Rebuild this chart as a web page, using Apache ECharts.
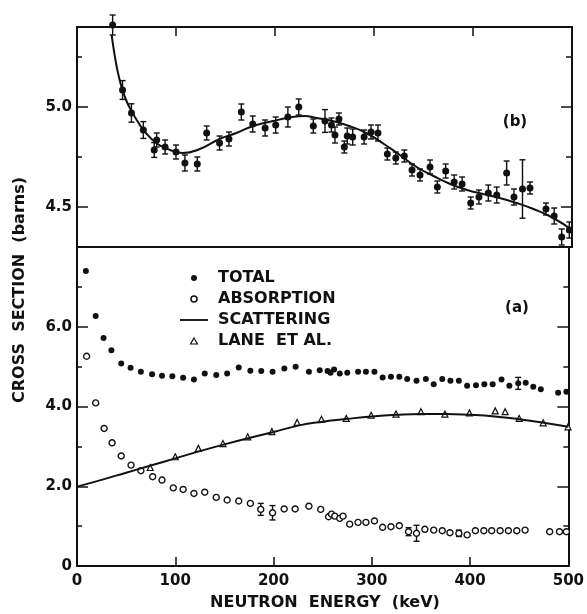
<!DOCTYPE html>
<html>
<head>
<meta charset="utf-8">
<script src="https://cdn.jsdelivr.net/npm/echarts@6/dist/echarts.min.js"></script>
<style>
  html, body { margin: 0; padding: 0; background: #fff; }
  #chart { width: 587px; height: 614px; }
</style>
</head>
<body>
<div id="chart"></div>
<script>
// panel (b): total cross section, [energy keV, barns, error]
const topTotal = [
  [36, 5.41, 0.05], [46, 5.085, 0.047], [55, 4.97, 0.046], [67, 4.885, 0.042],
  [78, 4.785, 0.037], [80.5, 4.835, 0.035], [89, 4.80, 0.035], [100, 4.775, 0.035],
  [109, 4.72, 0.04], [121.5, 4.715, 0.035], [131, 4.87, 0.035], [144, 4.82, 0.035],
  [153.5, 4.84, 0.035], [166, 4.975, 0.04], [177.5, 4.915, 0.04], [190, 4.895, 0.04],
  [200.7, 4.91, 0.04], [213, 4.95, 0.05], [224, 5.0, 0.04], [238.7, 4.905, 0.035],
  [250.5, 4.93, 0.057], [257, 4.91, 0.035], [260.6, 4.86, 0.04], [264.6, 4.94, 0.03],
  [270, 4.80, 0.03], [273, 4.855, 0.04], [278.5, 4.85, 0.04], [290, 4.85, 0.035],
  [297, 4.875, 0.035], [304, 4.87, 0.04], [313.5, 4.765, 0.03], [322, 4.745, 0.03],
  [330.6, 4.755, 0.03], [338.4, 4.685, 0.03], [346.5, 4.66, 0.03], [356.6, 4.70, 0.035],
  [364, 4.60, 0.03], [372.4, 4.68, 0.035], [381, 4.625, 0.035], [389, 4.615, 0.035],
  [397.7, 4.52, 0.03], [406, 4.55, 0.035], [415.5, 4.57, 0.04], [424, 4.56, 0.04],
  [434, 4.67, 0.06], [441.4, 4.55, 0.04], [450, 4.59, 0.146], [457.6, 4.595, 0.03],
  [473.7, 4.49, 0.03], [482, 4.455, 0.04], [489.6, 4.35, 0.04], [497.3, 4.385, 0.04]
];

// fitted curve through panel (b)
const topFit = [
  [35, 5.36], [38, 5.26], [41, 5.18], [45, 5.10], [50, 5.03], [55, 4.98], [61, 4.93],
  [68, 4.88], [80, 4.82], [94, 4.785], [107, 4.77], [124, 4.79], [144, 4.84], [161, 4.87],
  [178, 4.905], [198, 4.93], [218, 4.95], [230, 4.955], [242, 4.945], [258, 4.93],
  [275, 4.905], [292, 4.87], [310, 4.815], [326, 4.76], [343, 4.70], [360, 4.655],
  [377, 4.615], [394, 4.585], [410, 4.565], [427, 4.545], [444, 4.52], [461, 4.49],
  [481, 4.445], [500, 4.385]
];

// panel (a)
const total = [
  [9, 7.40], [19, 6.27], [27, 5.72], [35, 5.41], [45, 5.08], [54.5, 4.97], [65, 4.87],
  [76.4, 4.81], [86.5, 4.77], [97, 4.76], [108, 4.72], [119, 4.68], [130, 4.83],
  [141.7, 4.79], [152.8, 4.83], [164.6, 4.98], [176.4, 4.895], [187.5, 4.89], [199, 4.87],
  [211, 4.955], [222.5, 4.995], [236, 4.87], [247, 4.91], [255, 4.89], [258, 4.845],
  [261.6, 4.93], [267.4, 4.83], [275, 4.845], [286, 4.87], [294, 4.87], [302.7, 4.87],
  [311, 4.73], [319.5, 4.745], [328, 4.745], [336, 4.69], [345.5, 4.645], [355, 4.69],
  [363, 4.56], [371.7, 4.69], [380, 4.645], [388.6, 4.645], [397, 4.52], [406, 4.535],
  [414.5, 4.56], [423, 4.56], [432, 4.68], [440, 4.52], [449, 4.58], [456.6, 4.595],
  [464.3, 4.495], [472, 4.43], [489.6, 4.345], [498, 4.37]
];
const totalErr = [[449, 4.58, 0.15]];

const absorption = [
  [9.8, 5.26], [19, 4.09], [27.6, 3.45], [35.7, 3.09], [45, 2.76], [55, 2.53], [65, 2.39],
  [77, 2.24], [86.5, 2.155], [98, 1.96], [108, 1.92], [119, 1.82], [130, 1.85], [141.7, 1.72],
  [152.8, 1.655], [164.6, 1.63], [176.4, 1.57], [187, 1.42], [199, 1.335], [210.8, 1.43],
  [222, 1.43], [236, 1.50], [248, 1.42], [256, 1.235], [259, 1.30], [262.3, 1.25],
  [267.4, 1.195], [270.7, 1.25], [277.5, 1.05], [286, 1.095], [294, 1.095], [302.7, 1.13],
  [311, 0.97], [319.5, 0.985], [328, 1.01], [337.4, 0.86], [345.5, 0.82], [354, 0.92],
  [363, 0.90], [371.7, 0.885], [379.5, 0.835], [388.6, 0.82], [397, 0.78], [405.4, 0.885],
  [414, 0.885], [422, 0.885], [430.6, 0.885], [439, 0.885], [447.5, 0.885], [456, 0.90],
  [481, 0.86], [491, 0.86], [498, 0.86]
];
const absorptionErr = [
  [187, 1.42, 0.15], [199, 1.335, 0.18], [337.4, 0.86, 0.1], [345.5, 0.82, 0.2], [388.6, 0.82, 0.08]
];

const scattering = [
  [0, 1.99], [25, 2.16], [50, 2.34], [75, 2.52], [100, 2.70], [125, 2.88], [150, 3.05],
  [175, 3.21], [200, 3.36], [225, 3.52], [250, 3.62], [275, 3.69], [300, 3.75], [325, 3.79],
  [350, 3.81], [375, 3.81], [400, 3.79], [425, 3.75], [450, 3.68], [475, 3.59], [500, 3.49]
];

const lane = [
  [74.5, 2.47], [100, 2.74], [123.5, 2.95], [148.5, 3.07], [173.7, 3.24], [198.3, 3.37],
  [224, 3.60], [248.8, 3.68], [274, 3.70], [299.3, 3.78], [324.6, 3.81], [350, 3.87],
  [374.4, 3.81], [399.3, 3.84], [425.6, 3.89], [435.7, 3.87], [450, 3.70], [474.4, 3.59],
  [499.7, 3.49]
];

const xTicks = [0, 100, 200, 300, 400, 500];
const topMajor = [4.5, 5.0];
const topMinor = [4.75, 5.25];

const INK = '#111';
const FONT = 'DejaVu Sans';
const axisLine = { show: true, onZero: false, lineStyle: { color: INK, width: 2 } };

// error bar with small caps
function errorBar(params, api) {
  const x = api.value(0);
  const hi = api.coord([x, api.value(2)]);
  const lo = api.coord([x, api.value(1)]);
  const w = 3;
  const style = { stroke: INK, lineWidth: 1.4 };
  return {
    type: 'group',
    children: [
      { type: 'line', shape: { x1: hi[0], y1: hi[1], x2: lo[0], y2: lo[1] }, style },
      { type: 'line', shape: { x1: hi[0] - w, y1: hi[1], x2: hi[0] + w, y2: hi[1] }, style },
      { type: 'line', shape: { x1: lo[0] - w, y1: lo[1], x2: lo[0] + w, y2: lo[1] }, style }
    ]
  };
}
const toBars = arr => arr.map(d => [d[0], d[1] - d[2], d[1] + d[2]]);

const chart = echarts.init(document.getElementById('chart'));

const xBase = {
  type: 'value', min: 0, max: 500, interval: 100,
  axisLine, splitLine: { show: false },
  axisTick: { show: true, inside: true, length: 9, lineStyle: { color: INK, width: 1.5 } },
  axisLabel: { show: false }
};
const labelStyle = { color: INK, fontFamily: FONT, fontWeight: 'bold', fontSize: 15 };

const topY = (position, values, length, labels) => ({
  type: 'value', gridIndex: 0, position, min: 4.3, max: 5.4,
  axisLine, splitLine: { show: false },
  axisTick: { show: true, inside: true, length, customValues: values, lineStyle: { color: INK, width: 1.5 } },
  axisLabel: labels
    ? Object.assign({ show: true, margin: 5, customValues: values, formatter: v => v.toFixed(1) }, labelStyle)
    : { show: false }
});

const bottomY = (position, labels) => ({
  type: 'value', gridIndex: 1, position, min: 0, max: 8, interval: 2,
  axisLine, splitLine: { show: false },
  axisTick: { show: true, inside: true, length: 11, lineStyle: { color: INK, width: 1.5 } },
  minorTick: { show: true, splitNumber: 2, length: 5, lineStyle: { color: INK, width: 1.5 } },
  axisLabel: labels
    ? Object.assign({
        show: true, margin: 5,
        formatter: v => (v === 0 ? '0' : v === 8 ? '' : v.toFixed(1))
      }, labelStyle)
    : { show: false }
});

const option = {
  animation: false,
  backgroundColor: '#fff',
  grid: [
    { left: 77, top: 27, width: 495, height: 220 },
    { left: 77, top: 247, width: 495, height: 319 }
  ],
  xAxis: [
    Object.assign({}, xBase, { gridIndex: 0, position: 'top' }),
    Object.assign({}, xBase, { gridIndex: 0, position: 'bottom', axisTick: { show: false } }),
    Object.assign({}, xBase, {
      gridIndex: 1, position: 'bottom',
      axisLabel: Object.assign({ show: true, margin: 8, customValues: xTicks }, labelStyle)
    })
  ],
  yAxis: [
    topY('left', topMajor, 11, true),
    topY('left', topMinor, 5, false),
    topY('right', topMajor, 11, false),
    topY('right', topMinor, 6, false),
    bottomY('left', true),
    bottomY('right', false)
  ],
  legend: {
    orient: 'vertical', left: 175, top: 265,
    itemWidth: 28, itemHeight: 6, itemGap: 5,
    selectedMode: false,
    textStyle: { color: INK, fontFamily: FONT, fontWeight: 'bold', fontSize: 16, padding: [0, 0, 0, 5] },
    data: [
      { name: 'TOTAL', icon: 'circle', itemStyle: { color: INK, opacity: 1 } },
      { name: 'ABSORPTION', icon: 'circle', itemStyle: { color: '#fff', borderColor: INK, borderWidth: 1.5, opacity: 1 } },
      { name: 'SCATTERING', icon: 'path://M0,0L30,0L30,2L0,2Z', itemStyle: { color: INK } },
      { name: 'LANE  ET AL.', icon: 'path://M3,0L6,5.2L0,5.2Z', itemStyle: { color: '#fff', borderColor: INK, borderWidth: 1.2, opacity: 1 } }
    ]
  },
  graphic: [
    {
      type: 'text', x: 20, y: 290, rotation: Math.PI / 2,
      style: {
        text: 'CROSS  SECTION  (barns)', fill: INK, font: 'bold 16px "DejaVu Sans"',
        textAlign: 'center', textVerticalAlign: 'middle', align: 'center', verticalAlign: 'middle'
      }
    },
    {
      type: 'text', x: 325, y: 603,
      style: {
        text: 'NEUTRON  ENERGY  (keV)', fill: INK, font: 'bold 16px "DejaVu Sans"',
        textAlign: 'center', textVerticalAlign: 'middle', align: 'center', verticalAlign: 'middle'
      }
    },
    {
      type: 'text', x: 515, y: 122,
      style: {
        text: '(b)', fill: INK, font: 'bold 15px "DejaVu Sans"',
        textAlign: 'center', textVerticalAlign: 'middle', align: 'center', verticalAlign: 'middle'
      }
    },
    {
      type: 'text', x: 517, y: 308,
      style: {
        text: '(a)', fill: INK, font: 'bold 15px "DejaVu Sans"',
        textAlign: 'center', textVerticalAlign: 'middle', align: 'center', verticalAlign: 'middle'
      }
    }
  ],
  series: [
    // panel (b)
    {
      name: 'fit', type: 'line', xAxisIndex: 0, yAxisIndex: 0, data: topFit,
      smooth: true, showSymbol: false, clip: false,
      lineStyle: { color: INK, width: 2 }
    },
    {
      name: 'totalErrB', type: 'custom', xAxisIndex: 0, yAxisIndex: 0,
      data: toBars(topTotal), renderItem: errorBar, clip: false
    },
    {
      name: 'TOTAL (b)', type: 'scatter', xAxisIndex: 0, yAxisIndex: 0,
      data: topTotal.map(d => [d[0], d[1]]), symbolSize: 7, clip: false,
      itemStyle: { color: INK, opacity: 1 }
    },
    // panel (a)
    {
      name: 'SCATTERING', type: 'line', xAxisIndex: 2, yAxisIndex: 4, data: scattering,
      smooth: true, showSymbol: false, lineStyle: { color: INK, width: 2 }
    },
    {
      name: 'LANE  ET AL.', type: 'scatter', xAxisIndex: 2, yAxisIndex: 4, data: lane,
      symbol: 'triangle', symbolSize: 6,
      itemStyle: { color: '#fff', borderColor: INK, borderWidth: 1.2, opacity: 1 }
    },
    {
      name: 'totalErr', type: 'custom', xAxisIndex: 2, yAxisIndex: 4,
      data: toBars(totalErr), renderItem: errorBar
    },
    {
      name: 'TOTAL', type: 'scatter', xAxisIndex: 2, yAxisIndex: 4, data: total,
      symbolSize: 6, itemStyle: { color: INK, opacity: 1 }
    },
    {
      name: 'absErr', type: 'custom', xAxisIndex: 2, yAxisIndex: 4,
      data: toBars(absorptionErr), renderItem: errorBar
    },
    {
      name: 'ABSORPTION', type: 'scatter', xAxisIndex: 2, yAxisIndex: 4, data: absorption,
      symbol: 'circle', symbolSize: 6,
      itemStyle: { color: '#fff', borderColor: INK, borderWidth: 1.4, opacity: 1 }
    }
  ]
};

chart.setOption(option);
</script>
</body>
</html>
